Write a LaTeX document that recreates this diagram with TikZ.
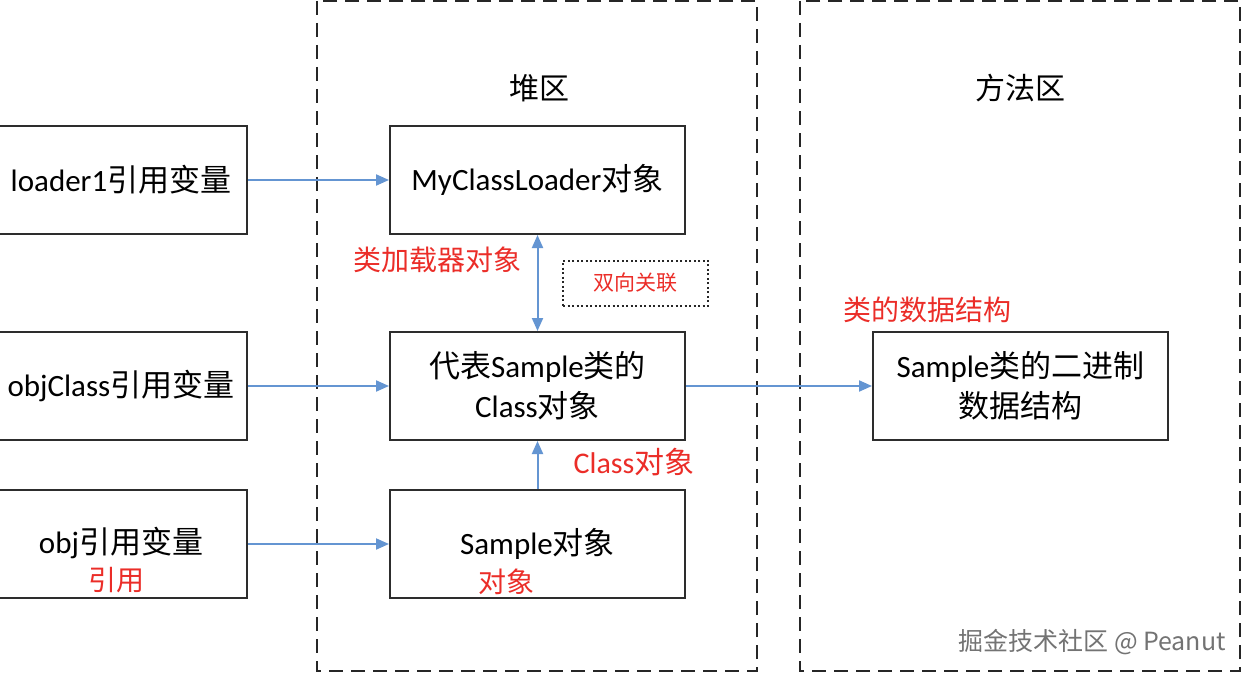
\documentclass[tikz,border=0pt]{standalone}
\usepackage{fontspec}
\setmainfont{Carlito}
\newfontfamily\cjk{Noto Sans CJK SC}
\usetikzlibrary{arrows.meta}
\definecolor{arrblue}{RGB}{100,149,210}
\definecolor{lblred}{RGB}{235,45,40}
\definecolor{boxline}{RGB}{45,45,45}
\tikzset{
  box/.style={draw=boxline, line width=2pt, fill=white, minimum width=295pt, minimum height=108pt, align=center, inner sep=0pt, font=\fontsize{31}{40}\selectfont},
  lbox/.style={box, minimum width=252pt},
  region/.style={draw=black!85, line width=2.4pt, dash pattern=on 14pt off 8pt},
  arr/.style={draw=arrblue, line width=2pt, -{Triangle[length=13pt,width=11pt]}},
  darr/.style={draw=arrblue, line width=2pt, {Triangle[length=13pt,width=11pt]}-{Triangle[length=13pt,width=11pt]}},
  redlbl/.style={text=lblred, font=\cjk\fontsize{28}{30}\selectfont, inner sep=0pt},
  head/.style={font=\cjk\fontsize{30}{32}\selectfont, inner sep=0pt}
}
\begin{document}
\begin{tikzpicture}[x=1pt,y=-1pt]
\useasboundingbox[fill=white] (0,0) rectangle (1248,677);
% regions
\draw[region] (317,1) rectangle (757,671);
\draw[region] (800,1) rectangle (1240,671);
\node[head] (heap) at (539,88) {堆区};
\node[head] (meth) at (1020,88) {方法区};
% left boxes
\node[lbox] (l1) at (121,180) {loader1{\cjk 引用变量}};
\node[lbox] (l2) at (121,386) {objClass{\cjk 引用变量}};
\node[lbox] (l3) at (121,544) {};
\node[font=\fontsize{31}{34}\selectfont, inner sep=0pt] (l3t) at (121,543) {obj{\cjk 引用变量}};
% heap boxes
\node[box] (h1) at (537.5,180) {MyClassLoader{\cjk 对象}};
\node[box] (h2) at (537.5,386) {{\cjk 代表}Sample{\cjk 类的}\\Class{\cjk 对象}};
\node[box] (h3) at (537.5,544) {Sample{\cjk 对象}};
% method box
\node[box] (m1) at (1020.5,386) {Sample{\cjk 类的二进制}\\{\cjk 数据结构}};
% arrows
\draw[arr] (l1.east) -- (h1.west);
\draw[arr] (l2.east) -- (h2.west);
\draw[arr] (l3.east) -- (h3.west);
\draw[arr] (h2.east) -- (m1.west);
\draw[arr] (h3.north) -- (h2.south);
\draw[darr] (h1.south) -- (h2.north);
% red labels
\node[redlbl] (r1) at (437,260) {类加载器对象};
\node[draw=black!85, line width=2pt, dash pattern=on 2pt off 2.5pt, minimum width=145pt, minimum height=45pt, text=lblred, font=\cjk\fontsize{21}{24}\selectfont] (r2) at (635.5,283) {双向关联};
\node[redlbl] (r3) at (927,310) {类的数据结构};
\node[redlbl, font=\fontsize{30}{32}\selectfont] (r4) at (634,462) {Class{\cjk 对象}};
\node[redlbl] (r5) at (116,580) {引用};
\node[redlbl] (r6) at (506,582) {对象};
% watermark
\node[anchor=east, text=black!55, font=\cjk\fontsize{25}{28}\selectfont, inner sep=0pt] (wm) at (1226,642) {掘金技术社区 @ Peanut};
\end{tikzpicture}
\end{document}
